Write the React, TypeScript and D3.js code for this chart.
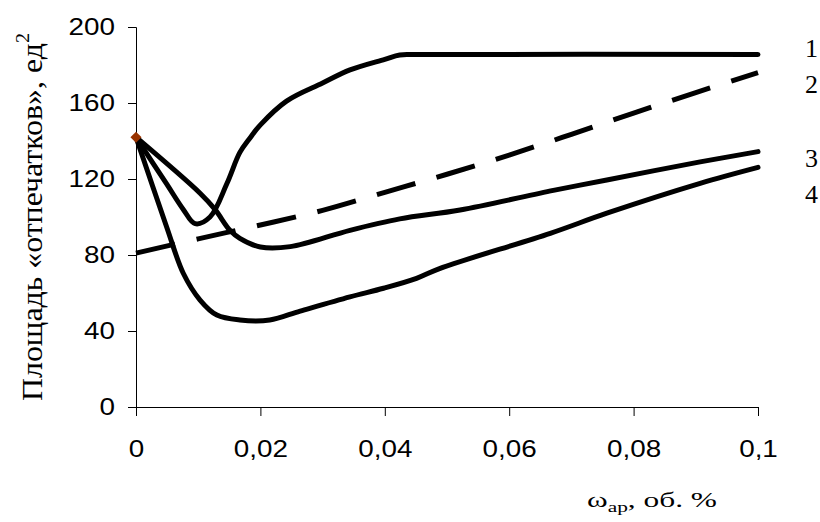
import React, { useEffect, useRef } from 'react';
import * as d3 from 'd3';

// значения (x — об. %, y — ед²)
const x1 = [0, 0.005, 0.0076, 0.0095, 0.0119, 0.0146, 0.0167, 0.0183, 0.02, 0.0242, 0.03, 0.0344, 0.04, 0.0424, 0.045, 0.1];
const y1 = [142, 117, 104, 96.5, 100, 117.5, 134, 141.5, 148.5, 161, 170.5, 177.4, 183, 185.3, 185.5, 185.5];

const x2 = [0, 0.01, 0.02, 0.03, 0.04, 0.05, 0.06, 0.07, 0.08, 0.09, 0.1];
const y2 = [81, 88.5, 95.8, 103.5, 113, 122.5, 132.6, 143.5, 154.7, 165.5, 176];

const x3 = [0, 0.0103, 0.0127, 0.0151, 0.0167, 0.02, 0.0248, 0.0344, 0.0424, 0.0521, 0.0671, 0.0757, 0.0907, 0.1];
const y3 = [142, 112.5, 104, 93, 88.8, 84.2, 84.4, 93, 99, 103.7, 114, 119.5, 129, 134.4];

const x4 = [0, 0.0049, 0.0076, 0.0103, 0.013, 0.0167, 0.0215, 0.0264, 0.0344, 0.0398, 0.0451, 0.0489, 0.0666, 0.0757, 0.0907, 0.1];
const y4 = [142, 95, 70.4, 56.3, 48.4, 45.8, 45.8, 50.5, 58, 62.5, 67.7, 73, 91.4, 102, 117.7, 126.1];

const xTicks = [0, 0.02, 0.04, 0.06, 0.08, 0.1];
const yTicks = [0, 40, 80, 120, 160, 200];

const seriesNames = ['1', '2', '3', '4'];
const labelAt = [189, 170, 131, 112];

const startPoint = { x: 0, y: 142 };

const W = 820;
const H = 522;
const SX = 1.16; // растяжка шрифта по горизонтали
const SERIF = '"Liberation Serif", "DejaVu Serif", "Times New Roman", serif';

export default function App() {
  const ref = useRef<SVGSVGElement>(null);

  useEffect(() => {
    document.body.style.margin = '0';
    let svg = d3.select(ref.current);
    svg.selectAll('*').remove();

    let x = d3.scaleLinear().domain([0, 0.1]).range([136, 758]);
    let y = d3.scaleLinear().domain([0, 200]).range([407, 27]);

    // оси
    let gx = svg.append('g')
      .attr('transform', `translate(0,${y(0)})`)
      .call(d3.axisBottom(x).tickValues(xTicks).tickSize(9).tickPadding(24)
        .tickFormat((d: any) => String(d).replace('.', ',')));
    let gy = svg.append('g')
      .attr('transform', `translate(${x(0)},0)`)
      .call(d3.axisLeft(y).tickValues(yTicks).tickSize(8).tickPadding(13));

    [gx, gy].forEach(g => {
      g.select('.domain').attr('stroke', '#000').attr('stroke-width', 1);
      g.selectAll('.tick line').attr('stroke', '#000').attr('stroke-width', 1);
      g.selectAll('.tick text')
        .attr('fill', '#000')
        .style('font-family', '"Liberation Sans", Arial, sans-serif')
        .style('font-size', '24px');
    });
    gx.selectAll('.tick text').attr('transform', `scale(${SX},1)`);
    gy.selectAll('.tick text')
      .attr('x', -21 / SX)
      .attr('transform', `scale(${SX},1)`);

    let line = d3.line<[number, number]>()
      .x(d => x(d[0]))
      .y(d => y(d[1]))
      .curve(d3.curveCatmullRom.alpha(0.5));

    let series = [
      { xs: x1, ys: y1, dash: null },
      { xs: x2, ys: y2, dash: '40 22' },
      { xs: x3, ys: y3, dash: null },
      { xs: x4, ys: y4, dash: null },
    ];

    series.forEach(s => {
      let pts = s.xs.map((v, i) => [v, s.ys[i]] as [number, number]);
      svg.append('path')
        .attr('d', line(pts))
        .attr('fill', 'none')
        .attr('stroke', '#000')
        .attr('stroke-width', 5)
        .attr('stroke-linejoin', 'round')
        .attr('stroke-linecap', s.dash ? 'butt' : 'round')
        .attr('stroke-dasharray', s.dash);
    });

    // маркер в начальной точке
    svg.append('path')
      .attr('d', d3.symbol(d3.symbolSquare, 62)())
      .attr('transform', `translate(${x(startPoint.x)},${y(startPoint.y)}) rotate(45)`)
      .attr('fill', '#993300');

    // номера кривых
    svg.selectAll('.lbl')
      .data(seriesNames)
      .enter()
      .append('text')
      .attr('class', 'lbl')
      .attr('x', x(0.1) + 47)
      .attr('y', (d, i) => y(labelAt[i]))
      .attr('dy', '0.35em')
      .style('font-family', SERIF)
      .style('font-size', '26px')
      .text(d => d);

    // подпись оси Y
    let ty = svg.append('text')
      .attr('transform', 'translate(42,217) rotate(-90)')
      .attr('text-anchor', 'middle')
      .attr('textLength', 368)
      .attr('lengthAdjust', 'spacingAndGlyphs')
      .attr('fill', '#000')
      .style('font-family', SERIF)
      .style('font-size', '30px');
    ty.append('tspan').text('Площадь «отпечатков», ед');
    ty.append('tspan').attr('dy', -13).style('font-size', '19px').text('2');

    // подпись оси X
    let tx = svg.append('text')
      .attr('x', 587)
      .attr('y', 507)
      .attr('textLength', 130)
      .attr('lengthAdjust', 'spacingAndGlyphs')
      .attr('fill', '#000')
      .style('font-family', SERIF)
      .style('font-size', '22px');
    tx.append('tspan').text('ω');
    tx.append('tspan').attr('dy', 5).style('font-size', '15px').text('ар');
    tx.append('tspan').attr('dy', -5).text(', об. %');
  }, []);

  return (
    <svg ref={ref} width={W} height={H}
      style={{ display: 'block', position: 'absolute', left: 0, top: 0, background: '#fff' }} />
  );
}
